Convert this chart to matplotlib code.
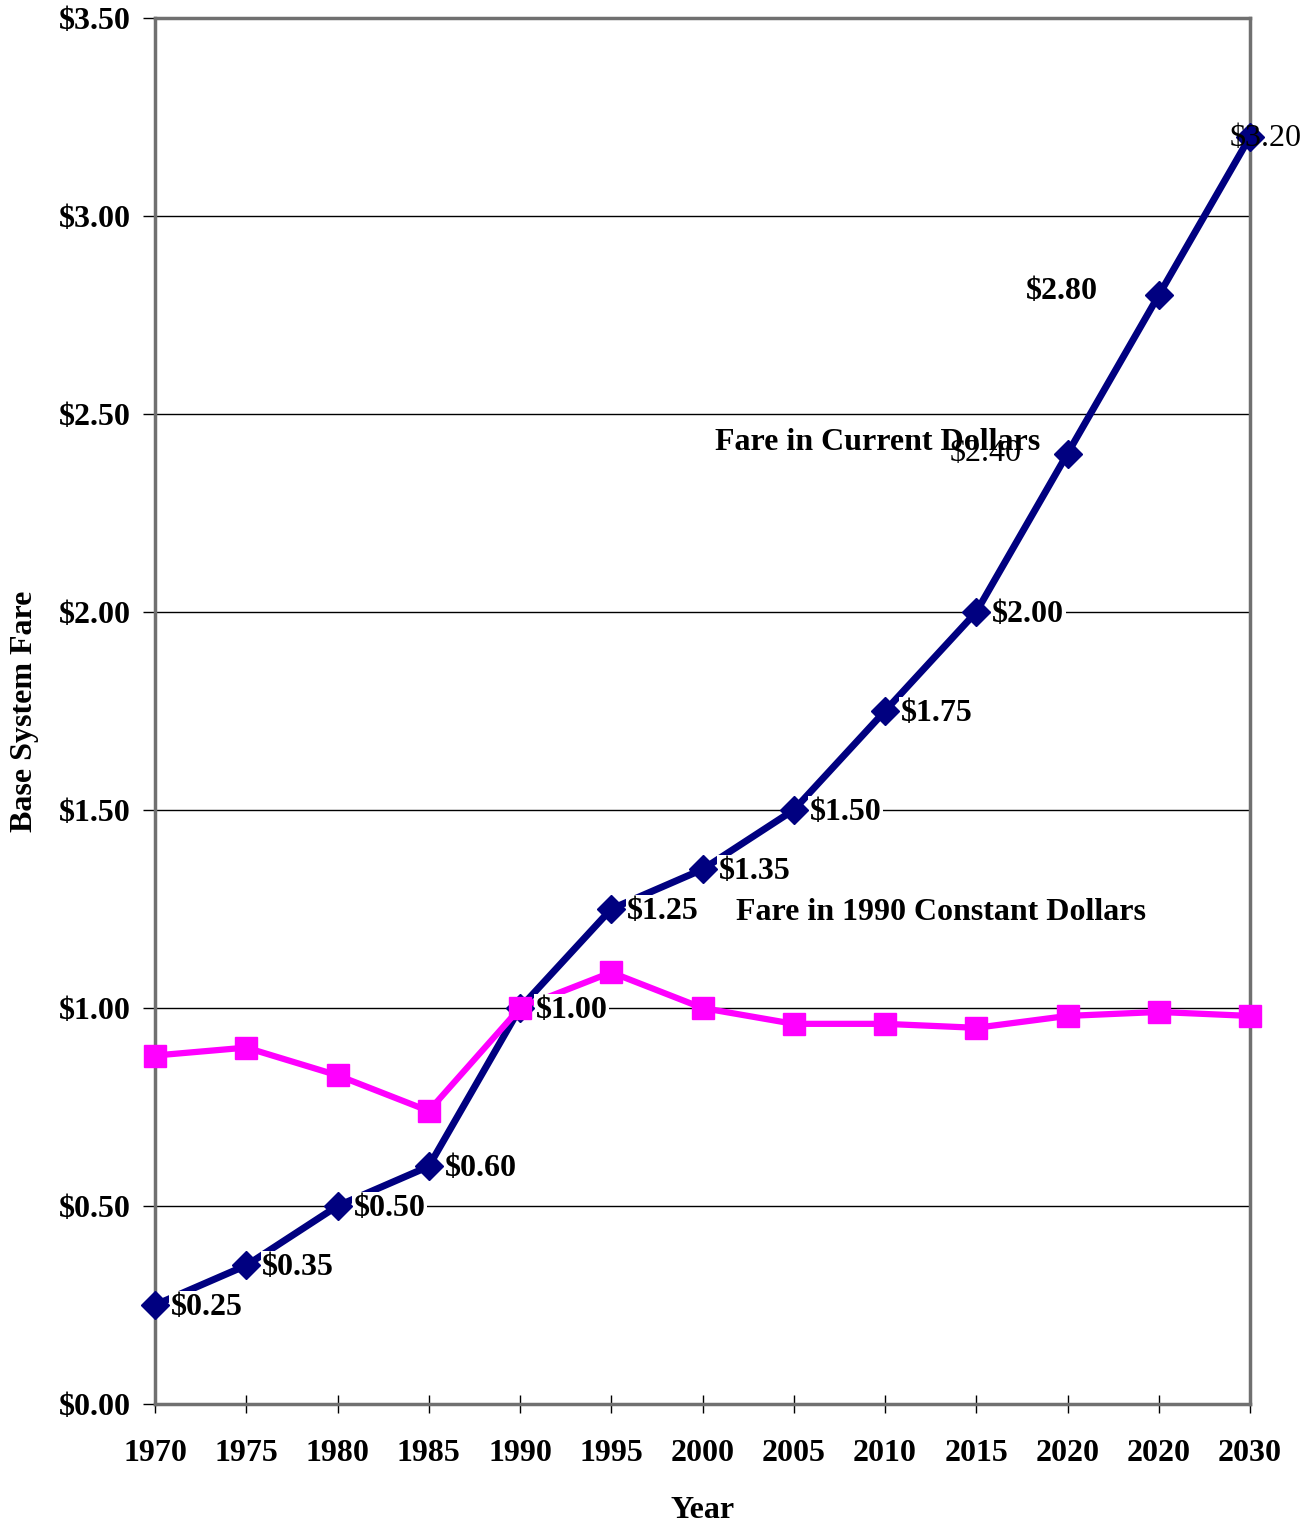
import numpy as np
import matplotlib
matplotlib.use("Agg")
import matplotlib.pyplot as plt

years = ["1970", "1975", "1980", "1985", "1990", "1995", "2000", "2005",
         "2010", "2015", "2020", "2020", "2030"]
fare_current = [0.25, 0.35, 0.50, 0.60, 1.00, 1.25, 1.35, 1.50, 1.75, 2.00, 2.40, 2.80, 3.20]
fare_constant = [0.88, 0.90, 0.83, 0.74, 1.00, 1.09, 1.00, 0.96, 0.96, 0.95, 0.98, 0.99, 0.98]
current_labels = ["$0.25", "$0.35", "$0.50", "$0.60", "$1.00", "$1.25", "$1.35", "$1.50",
                  "$1.75", "$2.00", "$2.40", "$2.80", "$3.20"]
yticks = [0.0, 0.5, 1.0, 1.5, 2.0, 2.5, 3.0, 3.5]
ytick_labels = ["$0.00", "$0.50", "$1.00", "$1.50", "$2.00", "$2.50", "$3.00", "$3.50"]

plt.rcParams['font.family'] = ['Liberation Serif', 'DejaVu Serif']
FS = 23

fig = plt.figure(figsize=(13.14, 15.23), dpi=100)
ax = fig.add_axes([155/1314, 1 - 1404/1523, (1250-155)/1314, (1404-18)/1523])

x = np.arange(len(years))
navy = '#000080'
mag = '#FF00FF'

ax.plot(x, fare_current, color=navy, lw=5, zorder=2, clip_on=False)
ax.plot(x, fare_constant, color=mag, lw=4.5, zorder=2.5, clip_on=False)
ax.plot(x, fare_current, ls='none', marker='D', ms=14.5, color=navy, zorder=4, clip_on=False)
ax.plot(x, fare_constant, ls='none', marker='s', ms=16.5, color=mag, zorder=4.5, clip_on=False)

# data labels
for i, (xi, yi, lab) in enumerate(zip(x, fare_current, current_labels)):
    if i == 10:
        ax.annotate(lab, (xi, yi), xytext=(-33, 0), textcoords='offset points',
                    ha='right', va='center', fontsize=FS, fontweight='normal', zorder=5,
                    annotation_clip=False)
    elif i == 11:
        ax.annotate(lab, (xi, yi), xytext=(-44, 3), textcoords='offset points',
                    ha='right', va='center', fontsize=FS, fontweight='bold', zorder=3,
                    annotation_clip=False,
                    bbox=dict(boxstyle='square,pad=0.05', fc='white', ec='none'))
    elif i == 12:
        ax.annotate(lab, (xi, yi), xytext=(11, -1), textcoords='offset points',
                    ha='center', va='center', fontsize=FS, fontweight='normal', zorder=5,
                    annotation_clip=False)
    else:
        ax.annotate(lab, (xi, yi), xytext=(11.5, -1.5), textcoords='offset points',
                    ha='left', va='center', fontsize=FS, fontweight='bold', zorder=3,
                    annotation_clip=False,
                    bbox=dict(boxstyle='square,pad=0.05', fc='white', ec='none'))

# series labels
ax.text((715-155)/(1250-155)*12, (1404-443)/396, "Fare in Current Dollars",
        fontsize=FS, fontweight='bold', ha='left', va='center', zorder=4.8)
ax.text((736-155)/(1250-155)*12, (1404-913)/396, "Fare in 1990 Constant Dollars",
        fontsize=FS, fontweight='bold', ha='left', va='center', zorder=4.8)

ax.set_xlim(0, 12)
ax.set_ylim(0, 3.5)
ax.set_yticks(yticks)
ax.set_yticklabels(ytick_labels, fontsize=FS, fontweight='bold')
ax.set_xticks(x)
ax.set_xticklabels(years, fontsize=FS, fontweight='bold')
ax.tick_params(axis='y', direction='out', length=8.5, width=1, pad=9)
ax.tick_params(axis='x', direction='inout', length=13, width=1, pad=19)

for yv in yticks[1:]:
    ax.axhline(yv, color='black', lw=1, zorder=1)

for s in ax.spines.values():
    s.set_color('#707070')
    s.set_linewidth(2.5)

ax.set_xlabel("Year", fontsize=FS, fontweight='bold', labelpad=20)
ax.set_ylabel("Base System Fare", fontsize=FS, fontweight='bold', labelpad=14)

fig.savefig("out.png", dpi=100, facecolor='white')
